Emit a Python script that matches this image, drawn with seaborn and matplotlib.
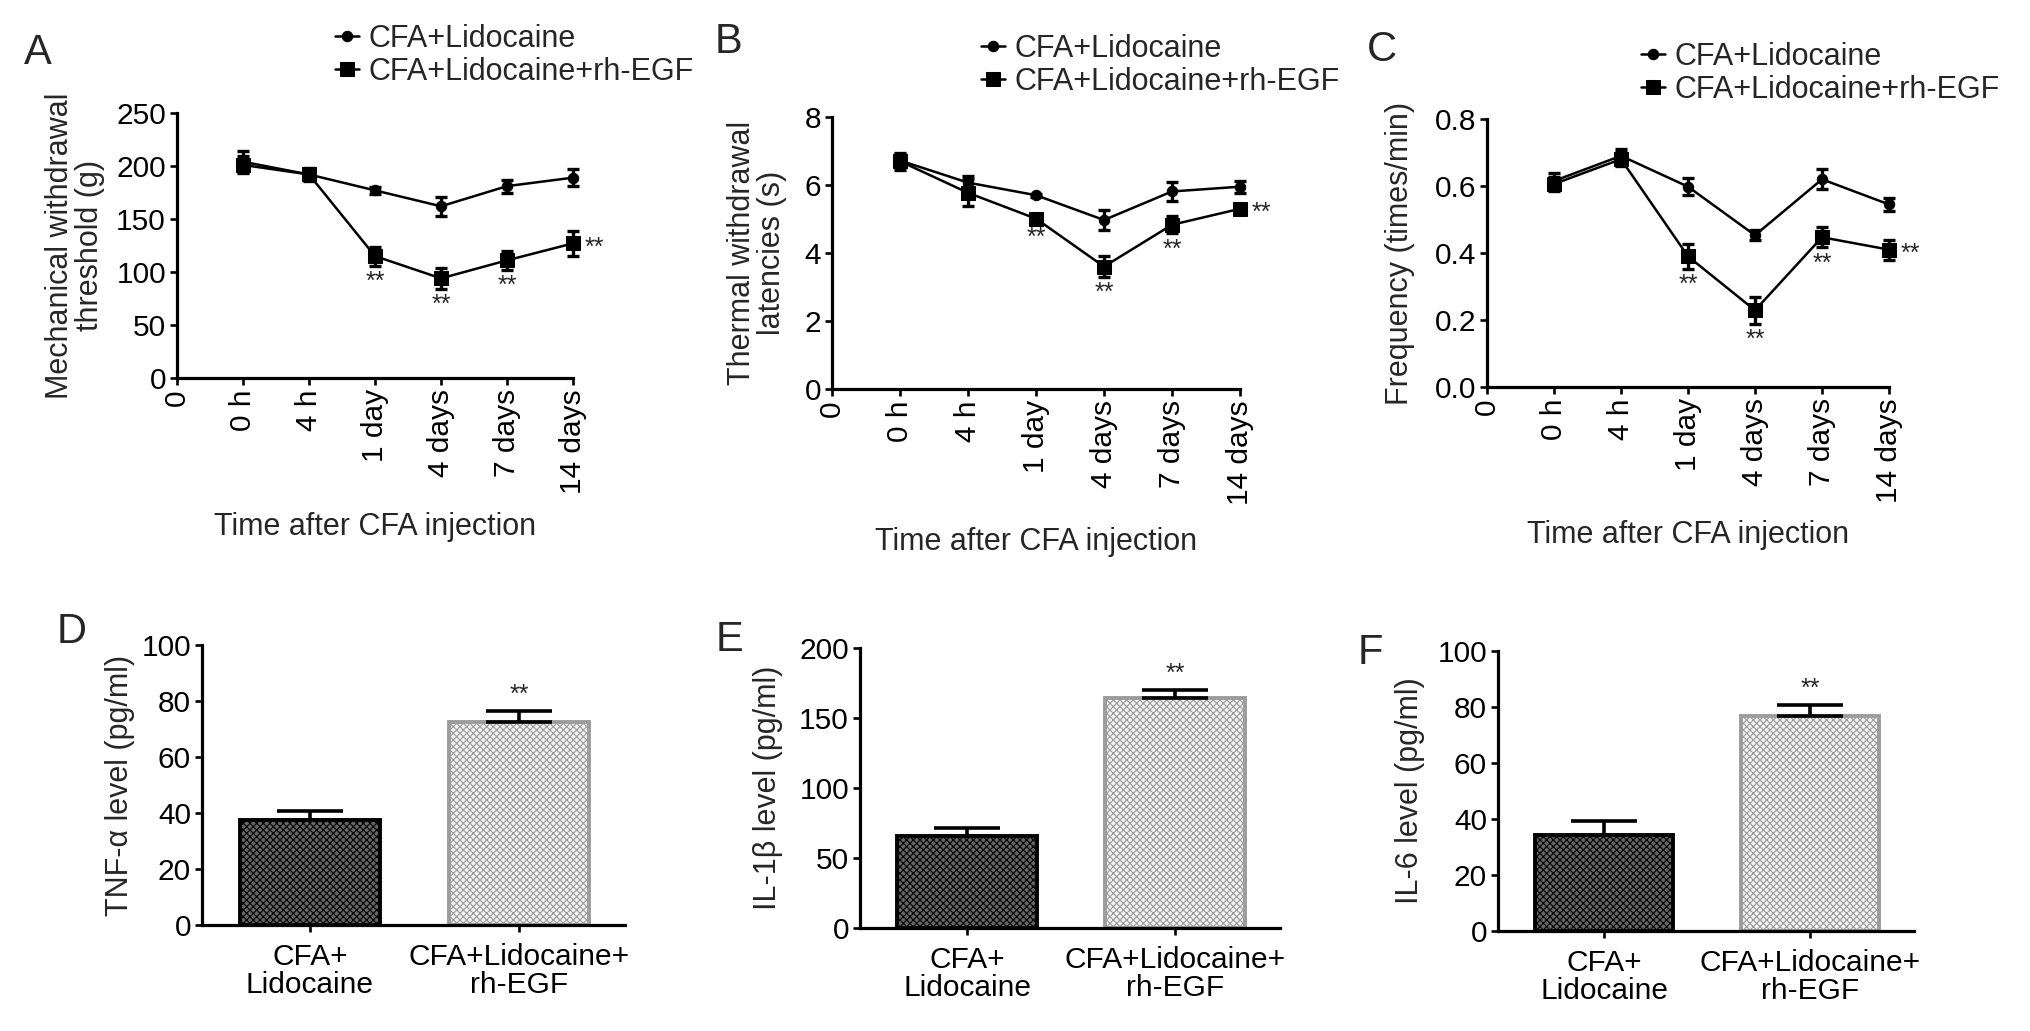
import matplotlib
matplotlib.use("Agg")
import matplotlib.pyplot as plt
import seaborn as sns
import pandas as pd

sns.set_theme(style="ticks")
plt.rcParams['font.family'] = ['Liberation Sans', 'DejaVu Sans']
plt.rcParams['hatch.linewidth'] = 0.8

# ---- data ----
groups = ["CFA+Lidocaine", "CFA+Lidocaine+rh-EGF"]
time_labels = ["0", "0 h", "4 h", "1 day", "4 days", "7 days", "14 days"]
time_pos = [1, 2, 3, 4, 5, 6]

# A: mechanical withdrawal threshold (g)
mech_lido = [204, 192, 177, 162, 181, 189]
mech_lido_err = [10, 5, 3, 9, 6, 8]
mech_egf = [201, 192, 115, 94, 111, 127]
mech_egf_err = [8, 6, 9, 10, 9, 12]

# B: thermal withdrawal latencies (s)
therm_lido = [6.72, 6.07, 5.70, 4.97, 5.81, 5.95]
therm_lido_err = [0.20, 0.20, 0.05, 0.30, 0.28, 0.18]
therm_egf = [6.70, 5.77, 5.01, 3.60, 4.83, 5.30]
therm_egf_err = [0.25, 0.40, 0.08, 0.30, 0.25, 0.15]

# C: frequency (times/min)
freq_lido = [0.615, 0.690, 0.598, 0.453, 0.620, 0.545]
freq_lido_err = [0.025, 0.020, 0.025, 0.015, 0.030, 0.020]
freq_egf = [0.606, 0.680, 0.390, 0.229, 0.447, 0.410]
freq_egf_err = [0.020, 0.020, 0.038, 0.040, 0.030, 0.030]

# D-F: cytokines (pg/ml)
bar_labels = ["CFA+\nLidocaine", "CFA+Lidocaine+\nrh-EGF"]
tnf = [37.6, 72.4]
tnf_err = [3.2, 4.0]
il1b = [65.8, 164.6]
il1b_err = [5.5, 5.2]
il6 = [34.2, 76.8]
il6_err = [5.1, 3.9]

W, H = 2031, 1031
fig = plt.figure(figsize=(W / 100, H / 100), dpi=100)

FS = 22      # labels / legend
TS = 21.5    # tick labels


def px_axes(l, t, r, b):
    return fig.add_axes([l / W, 1 - b / H, (r - l) / W, (b - t) / H])


def style_axes(ax):
    sns.despine(ax=ax)
    for s in ["left", "bottom"]:
        ax.spines[s].set_linewidth(2.3)
        ax.spines[s].set_color("black")
    ax.tick_params(length=5, width=1.9, labelsize=TS, colors="black", pad=3)


def line_panel(rect, lido, lido_err, egf, egf_err, ylim, yticks, yfmt,
               ylabel, ylab_x, xlab_y, leg_xy, stars):
    ax = px_axes(*rect)
    df = pd.DataFrame({
        "time": time_pos * 2,
        "value": lido + egf,
        "group": [groups[0]] * 6 + [groups[1]] * 6,
    })
    sns.lineplot(data=df, x="time", y="value", hue="group", style="group",
                 markers={groups[0]: "o", groups[1]: "s"}, dashes=False,
                 palette=["black", "black"], linewidth=1.8, ax=ax,
                 markeredgecolor="black")
    ln_lido, ln_egf = ax.lines[0], ax.lines[1]
    ln_lido.set_markersize(7.5)
    ln_egf.set_markersize(9.5)
    for ln in (ln_lido, ln_egf):
        ln.set_clip_on(False)
    ax.get_legend().remove()
    for vals, errs in ((lido, lido_err), (egf, egf_err)):
        eb = ax.errorbar(time_pos, vals, yerr=errs, fmt="none", ecolor="black",
                         elinewidth=2.4, capsize=4.5, capthick=2.4, zorder=3)
        for a in eb.lines[1] + eb.lines[2]:
            a.set_clip_on(False)
    for idx, where in stars:
        x = time_pos[idx]
        if where == "below":
            ax.annotate("**", (x, egf[idx] - egf_err[idx]), xytext=(0, -3),
                        textcoords="offset points", ha="center", va="top",
                        fontsize=18)
        else:
            ax.annotate("**", (x, egf[idx]), xytext=(8, -3),
                        textcoords="offset points", ha="left", va="center",
                        fontsize=18)
    ax.set_xlim(0, 6)
    ax.set_xticks(range(7))
    ax.set_xticklabels(time_labels, rotation=90)
    ax.set_ylim(*ylim)
    ax.set_yticks(yticks)
    ax.set_yticklabels([yfmt.format(v) for v in yticks])
    style_axes(ax)
    ax.set_ylabel(ylabel, fontsize=FS, linespacing=1.0)
    ax.yaxis.set_label_coords(ylab_x, 0.5)
    ax.yaxis.label.set_va("center")
    ax.set_xlabel("Time after CFA injection", fontsize=FS)
    ax.xaxis.set_label_coords(0.5, xlab_y)
    ax.xaxis.label.set_va("center")
    ax.legend([ln_lido, ln_egf], groups, loc="upper left",
              bbox_to_anchor=(leg_xy[0] / W, 1 - leg_xy[1] / H),
              bbox_transform=fig.transFigure, frameon=False, fontsize=FS,
              handlelength=0.8, handletextpad=0.3, labelspacing=0.1,
              borderpad=0, borderaxespad=0)
    return ax


def bar_panel(rect, vals, errs, ylim, yticks, ylabel, ylab_x):
    ax = px_axes(*rect)
    sns.barplot(x=bar_labels, y=vals, width=0.67, color="white", ax=ax)
    for p, fc, ec in zip(ax.patches, ["#666666", "#f2f2f2"], ["black", "#9c9c9c"]):
        p.set_facecolor(fc)
        p.set_edgecolor(ec)
        p.set_hatch("xxxxx")
        p.set_linewidth(2.8)
    ax.errorbar([0, 1], vals, yerr=[[0, 0], errs], fmt="none", ecolor="black",
                elinewidth=2.6, capsize=24, capthick=2.6, zorder=3)
    ax.annotate("**", (1, vals[1] + errs[1]), xytext=(0, 3),
                textcoords="offset points", ha="center", va="bottom", fontsize=18)
    ax.set_xlim(-0.515, 1.505)
    ax.set_ylim(*ylim)
    ax.set_yticks(yticks)
    style_axes(ax)
    ax.tick_params(axis="x", pad=8)
    for t in ax.get_xticklabels():
        t.set_linespacing(1.0)
    ax.set_ylabel(ylabel, fontsize=FS)
    ax.yaxis.set_label_coords(ylab_x, 0.5)
    ax.yaxis.label.set_va("center")
    return ax


line_panel((177, 113, 573, 378), mech_lido, mech_lido_err, mech_egf, mech_egf_err,
           (0, 250), [0, 50, 100, 150, 200, 250], "{:.0f}",
           "Mechanical withdrawal\nthreshold (g)", -0.258, -0.562, (335, 24),
           [(2, "below"), (3, "below"), (4, "below"), (5, "right")])
line_panel((832, 117, 1240, 389), therm_lido, therm_lido_err, therm_egf, therm_egf_err,
           (0, 8), [0, 2, 4, 6, 8], "{:.0f}",
           "Thermal withdrawal\nlatencies (s)", -0.184, -0.5625, (981, 34),
           [(2, "below"), (3, "below"), (4, "below"), (5, "right")])
line_panel((1487, 119, 1889, 387), freq_lido, freq_lido_err, freq_egf, freq_egf_err,
           (0, 0.8), [0.0, 0.2, 0.4, 0.6, 0.8], "{:.1f}",
           "Frequency (times/min)", -0.216, -0.552, (1641, 42),
           [(2, "below"), (3, "below"), (4, "below"), (5, "right")])

bar_panel((202, 645, 625, 925), tnf, tnf_err, (0, 100), [0, 20, 40, 60, 80, 100],
          "TNF-α level (pg/ml)", -0.194)
bar_panel((860, 648, 1280, 928), il1b, il1b_err, (0, 200), [0, 50, 100, 150, 200],
          "IL-1β level (pg/ml)", -0.219)
bar_panel((1498, 651, 1914, 931), il6, il6_err, (0, 100), [0, 20, 40, 60, 80, 100],
          "IL-6 level (pg/ml)", -0.212)

for letter, (x, y) in {"A": (38, 53), "B": (728, 42), "C": (1382, 50),
                       "D": (72, 632), "E": (730, 640), "F": (1370, 653)}.items():
    fig.text(x / W, 1 - y / H, letter, fontsize=30, ha="center", va="center")

fig.savefig("out.png", dpi=100)
